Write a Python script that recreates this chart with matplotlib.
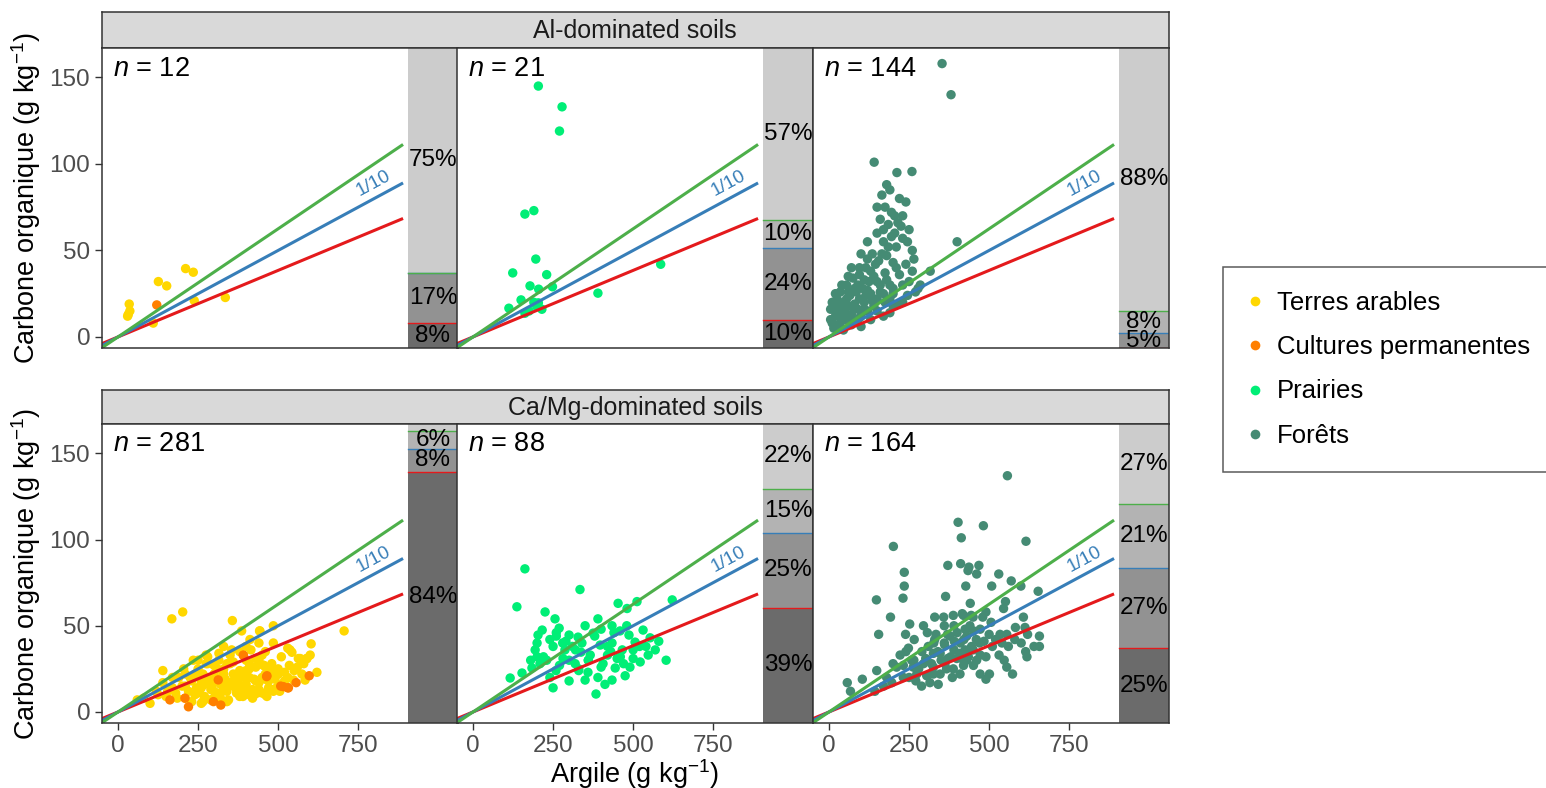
import numpy as np
import matplotlib.pyplot as plt
from matplotlib.lines import Line2D

plt.rcParams['font.family'] = ['Liberation Sans', 'DejaVu Sans']
plt.rcParams['mathtext.fontset'] = 'custom'
plt.rcParams['mathtext.rm'] = 'Liberation Sans'
plt.rcParams['mathtext.it'] = 'Liberation Sans:italic'

# ---------------- data ----------------
land_names = ['Terres arables', 'Cultures permanentes', 'Prairies', 'Forêts']
land_colors = ['#FFD700', '#FF7F00', '#00EE76', '#458B74']
strip_titles = ['Al-dominated soils', 'Ca/Mg-dominated soils']
n_labels = [[12, 21, 144], [281, 88, 164]]

ratio_slopes = [1 / 13, 1 / 10, 1 / 8]
ratio_colors = ['#E41A1C', '#377EB8', '#4DAF4A']
line_x = [-60, 890]

# share of samples (%) : < 1/13, 1/13-1/10, 1/10-1/8, > 1/8
al_shares = [[8.3, 16.7, 0.0, 75.0], [9.5, 23.8, 9.5, 57.2], [0.0, 4.9, 7.6, 87.5]]
ca_shares = [[84.0, 7.8, 5.7, 2.5], [38.6, 25.0, 14.8, 21.6], [25.0, 26.8, 21.3, 26.9]]
share_colors = ['#6B6B6B', '#929292', '#B3B3B3', '#CCCCCC']

# Al-dominated soils
al_arable_x = [35, 32, 37, 30, 110, 126, 152, 211, 235, 238, 335]
al_arable_y = [19, 13, 15, 12, 8, 32, 29.5, 39.5, 37.4, 21, 22.8]
al_perm_x = [121]
al_perm_y = [18.5]

al_prairie_x = [204, 278, 270, 162, 190, 196, 124, 230, 178, 205, 248, 150, 112, 199, 204, 162,
                390, 586, 190, 175, 215]
al_prairie_y = [145, 133, 119, 71, 73, 45, 37, 36, 29.5, 27.6, 29, 21.4, 16.6, 17.6, 19.7, 13.7,
                25.3, 42, 20, 15, 16]

al_forest_x = [353, 381, 141, 212, 259, 400, 316, 278, 165, 190, 175, 220, 240, 205, 160, 185,
               225, 250, 150, 195, 230, 170, 210, 260, 135, 180, 120, 155, 200, 240, 95, 130,
               175, 220, 260, 60, 110, 150, 190, 230, 40, 80, 120, 160, 200, 245, 20, 55,
               95, 135, 175, 215, 10, 40, 75, 110, 150, 190, 25, 60, 95, 130, 170, 5,
               35, 70, 15, 45, 100, 80, 60, 30, 20, 90, 140, 115, 200, 230, 270, 285,
               30, 50, 65,
               10, 20, 30, 40, 50, 60, 70, 80, 90, 100, 110, 120, 130, 140, 150, 160,
               170, 180, 190, 200, 15, 25, 35, 45, 55, 65, 75, 85, 95, 105, 115, 125,
               145, 165, 185, 205, 215, 170, 195, 230, 120, 100, 70, 245, 210, 250, 265, 180,
               150, 5]
al_forest_y = [158, 140, 101, 95, 95.6, 55, 38, 28, 82, 85, 75, 80, 78, 70, 68, 65,
               64, 62, 60, 58, 57, 55, 52, 50, 48, 47, 45, 44, 43, 42, 40, 38,
               37, 36, 38, 35, 33, 32, 30, 30, 30, 28, 27, 26, 25, 24, 25, 22,
               22, 21, 20, 19, 20, 18, 17, 16, 15, 14, 14, 12, 11, 10, 12, 10,
               8, 7, 5, 4, 6, 19, 26, 20, 15, 30, 35, 24, 18, 20, 26, 30,
               12, 15, 10,
               8, 12, 6, 14, 10, 18, 13, 9, 16, 12, 20, 15, 25, 18, 22, 30,
               25, 33, 22, 28, 18, 22, 26, 20, 30, 24, 34, 26, 36, 28, 40, 32,
               42, 48, 52, 60, 66, 62, 72, 70, 55, 48, 40, 55, 40, 32, 45, 88,
               75, 16]

# Ca/Mg-dominated soils
ca_arable_x = [168, 202, 357, 706, 485, 386, 442, 603, 621, 574, 548, 584, 563, 589, 537, 443,
               412, 530, 543, 569, 590, 60, 80, 100, 120, 140, 150, 170, 180, 200, 210, 220,
               230, 240, 250, 260, 270, 280, 290, 300, 310, 320, 330, 340, 350, 360, 370, 380,
               390, 400, 410, 420, 430, 440, 450, 460, 470, 480, 490, 500, 510, 520, 250, 270,
               290, 310, 330, 350, 370, 390, 410, 430, 450, 470, 260, 280, 300, 320, 340, 360,
               380, 400, 420, 440, 460, 480, 500, 240, 255, 275, 295, 315, 335, 355, 375, 395,
               415, 435, 455, 475, 495, 230, 265, 300, 345, 385, 425, 465, 505, 190, 210, 330,
               210, 225, 245, 265, 285, 300, 315, 330, 345, 360, 375, 395, 410, 425, 440, 455,
               470, 485, 500, 520, 535, 550, 205, 235, 275, 315, 355, 400, 440, 460, 485, 510,
               170, 155, 125, 140, 185, 260, 290, 340, 380, 420, 460, 500, 240, 280, 320, 360,
               400, 430, 300, 270, 250, 330, 370, 410, 450, 490, 530, 560, 580, 600]
ca_arable_y = [54, 58, 53, 47, 50, 47, 47, 39.5, 23, 22, 18.5, 18.5, 31, 31, 36, 47,
               42, 37, 34.6, 31, 31, 7, 8, 5, 12, 17, 9, 14, 11, 15, 8, 12,
               18, 10, 25, 14, 9, 20, 13, 27, 10, 16, 22, 12, 28, 18, 11, 24,
               15, 30, 20, 13, 26, 17, 33, 22, 14, 28, 19, 25, 16, 23, 30, 20,
               7, 25, 14, 33, 21, 9, 28, 18, 11, 24, 17, 32, 21, 11, 28, 15,
               35, 24, 9, 30, 19, 13, 22, 21, 13, 28, 16, 34, 19, 29, 12, 20,
               36, 11, 27, 20, 14, 6, 6, 8, 7, 12, 10, 9, 12, 20, 22, 38,
               15, 20, 14, 22, 16, 12, 19, 25, 15, 22, 17, 12, 25, 19, 13, 27,
               18, 12, 22, 18, 27, 24, 25, 30, 33, 30, 36, 38, 40, 35, 40, 32,
               20, 12, 10, 24, 8, 5, 7, 6, 9, 8, 10, 14, 22, 28, 8, 29,
               16, 31, 22, 16, 11, 18, 13, 10, 20, 24, 20, 26, 28, 33]
ca_perm_x = [392, 465, 597, 556, 530, 508, 313, 162, 209, 220, 298, 321, 516, 532, 464, 391]
ca_perm_y = [32.7, 21, 21, 17, 14, 15, 18.6, 7, 8, 3, 6, 4, 14.7, 14, 20.5, 33]

ca_prairie_x = [162, 137, 334, 453, 481, 512, 622, 225, 256, 390, 216, 203, 269, 300, 328, 375,
                434, 459, 487, 531, 553, 194, 250, 287, 337, 397, 434, 466, 506, 547, 569, 603,
                184, 209, 259, 319, 359, 406, 444, 475, 412, 384, 250, 116, 153, 350, 522, 434,
                281, 366, 230, 270, 310, 420, 500, 540, 580, 200, 240, 300, 360, 450, 490, 520,
                330, 390, 430, 470, 290, 260,
                220, 240, 260, 280, 300, 320, 340, 360, 380, 400, 420, 440, 460, 480, 500, 200,
                180, 350, 400, 330]
ca_prairie_y = [83, 61, 71, 63, 60, 64, 65, 58, 54, 54, 47.5, 44.6, 48.6, 44.6, 43.4, 45.7,
                50, 47, 44.6, 47.5, 43, 36, 38, 36, 34.7, 38.8, 40, 36, 40.5, 33, 36, 30,
                25.5, 28, 24, 28, 23, 28, 25.5, 21, 16, 10.4, 14, 19.7, 22.6, 18.5, 29, 18.5,
                31, 33, 30, 27, 38, 33, 31, 38, 41, 32, 20, 18, 30, 31, 26, 38,
                24, 20, 35, 28, 41, 44,
                32, 42, 46, 40, 30, 36, 40, 30, 44, 26, 38, 46, 32, 50, 36, 40,
                30, 50, 48, 25]

ca_forest_x = [557, 403, 482, 413, 615, 201, 371, 411, 437, 468, 434, 461, 235, 530, 569, 235,
               427, 508, 599, 653, 148, 231, 364, 441, 551, 192, 358, 388, 416, 444, 490, 545,
               607, 252, 295, 307, 334, 155, 239, 266, 378, 425, 451, 472, 506, 534, 555, 582,
               612, 657, 248, 327, 361, 391, 421, 445, 484, 657, 614, 618, 222, 258, 302, 347,
               371, 409, 435, 472, 531, 547, 263, 295, 326, 362, 388, 420, 451, 555, 573, 149,
               57, 104, 67, 143, 170, 211, 271, 289, 315, 341, 385, 409, 501, 490, 472, 232,
               196, 305, 326, 232, 430, 461, 367, 399, 425, 326, 347, 274,
               310, 330, 350, 370, 390, 410, 430, 450, 470, 490, 510, 320, 340, 360, 380, 400,
               420, 440, 460, 480, 500, 520, 290, 280, 265, 250, 240, 390, 360, 330, 450, 420,
               540, 560, 580, 600, 620, 640, 180, 200]
ca_forest_y = [137, 110, 108, 101, 99, 96, 85, 86, 84, 85, 82, 80, 81, 80, 76, 73,
               73, 73, 73, 70, 65, 66, 67, 63, 64, 55, 55, 56, 57, 56, 58, 60,
               55, 51, 50, 46, 45, 45, 45, 42, 44, 48, 47, 48, 52, 45, 45, 49,
               49, 44, 37, 40, 39, 41, 42, 38, 41, 38, 35, 32, 33, 30, 31, 34,
               31, 34, 32, 33, 33, 30, 26, 28, 26, 28, 25, 27, 27, 26, 22, 24,
               17, 19, 12, 12, 15, 26, 18, 15, 17, 16, 20, 22, 22, 19, 22, 20,
               17, 21, 22, 27, 30, 30, 25, 31, 36, 34, 22, 22,
               38, 42, 30, 45, 36, 40, 44, 36, 40, 32, 38, 28, 35, 40, 32, 46,
               30, 50, 42, 55, 45, 42, 35, 25, 30, 20, 35, 50, 50, 55, 55, 56,
               40, 38, 42, 40, 45, 38, 20, 28]

# panels: list of (x, y, colour) layers, one row per soil group
panels = [
    [[(al_arable_x, al_arable_y, land_colors[0]), (al_perm_x, al_perm_y, land_colors[1])],
     [(al_prairie_x, al_prairie_y, land_colors[2])],
     [(al_forest_x, al_forest_y, land_colors[3])]],
    [[(ca_arable_x, ca_arable_y, land_colors[0]), (ca_perm_x, ca_perm_y, land_colors[1])],
     [(ca_prairie_x, ca_prairie_y, land_colors[2])],
     [(ca_forest_x, ca_forest_y, land_colors[3])]],
]
shares = [al_shares, ca_shares]

# ---------------- figure ----------------
W, H = 1546, 788
fig = plt.figure(figsize=(W / 100, H / 100), dpi=100)

xlim = (-50, 1060)
ylim = (-6.4, 167)
bar_left = 907

col_left = [102, 457, 813]
col_w = 355.5
row_panel = [(48, 348), (424, 723)]
row_strip = [(12, 48), (390, 424)]
frame_col = '#333333'

for r in range(2):
    top, bot = row_panel[r]
    # strip
    s_top, s_bot = row_strip[r]
    sax = fig.add_axes([col_left[0] / W, 1 - s_bot / H, 3 * col_w / W, (s_bot - s_top) / H])
    sax.set_facecolor('#D9D9D9')
    sax.set_xticks([])
    sax.set_yticks([])
    for sp in sax.spines.values():
        sp.set_color(frame_col)
        sp.set_linewidth(1.1)
    sax.text(0.5, 0.47, strip_titles[r], ha='center', va='center', fontsize=18,
             color='#1A1A1A', transform=sax.transAxes)

    for c in range(3):
        ax = fig.add_axes([col_left[c] / W, 1 - bot / H, col_w / W, (bot - top) / H])
        ax.set_xlim(*xlim)
        ax.set_ylim(*ylim)

        for xs, ys, col in panels[r][c]:
            ax.scatter(xs, ys, s=46, color=col, edgecolors='none', zorder=2)

        for slope, col in zip(ratio_slopes, ratio_colors):
            ax.plot(line_x, [slope * v for v in line_x], color=col, lw=2.2, zorder=3,
                    solid_capstyle='butt')
        ax.text(812, 0.1 * 812 + 3.2, '1/10', color=ratio_colors[1], fontsize=13.5,
                rotation=np.degrees(np.arctan(0.1)), transform_rotates_text=True,
                rotation_mode='anchor', ha='center', va='bottom', zorder=4)

        # stacked share bar
        span = ylim[1] - ylim[0]
        base = ylim[0]
        for k, pct in enumerate(shares[r][c]):
            h = pct / 100 * span
            ax.bar(bar_left, h, width=xlim[1] - bar_left + 5, bottom=base, align='edge',
                   color=share_colors[k], edgecolor='none', zorder=1)
            if pct >= 4:
                ax.text((bar_left + xlim[1]) / 2, base + h / 2, f'{round(pct):d}%',
                        ha='center', va='center', fontsize=17.5, color='#000000',
                        zorder=5, clip_on=True)
            base += h
            if k < 3:
                ax.plot([bar_left, xlim[1] + 5], [base, base], color=ratio_colors[k],
                        lw=1.0, zorder=4)

        ax.text(0.03, 0.975, f'$n$ = {n_labels[r][c]}', transform=ax.transAxes,
                ha='left', va='top', fontsize=19.5, color='#000000')

        for sp in ax.spines.values():
            sp.set_color(frame_col)
            sp.set_linewidth(1.1)
            sp.set_zorder(6)
        ax.tick_params(colors=frame_col, labelcolor='#4D4D4D', labelsize=17.5, length=5,
                       width=1.0)
        ax.set_yticks([0, 50, 100, 150])
        ax.set_xticks([0, 250, 500, 750])
        if c > 0:
            ax.tick_params(axis='y', left=False, labelleft=False)
        if r == 0:
            ax.tick_params(axis='x', bottom=False, labelbottom=False)
        if c == 0:
            ax.set_ylabel(r'Carbone organique (g kg$^{-1}$)', fontsize=19.5, labelpad=5,
                          color='#000000')
        if r == 1 and c == 1:
            ax.set_xlabel(r'Argile (g kg$^{-1}$)', fontsize=19.5, labelpad=0, color='#000000')

handles = [Line2D([], [], marker='o', linestyle='none', markersize=7, color=col,
                  markeredgecolor='none') for col in land_colors]
leg = fig.legend(handles, land_names, loc='upper left',
                 bbox_to_anchor=(1223 / W, 1 - 267 / H), fontsize=18.5, frameon=True,
                 fancybox=False, edgecolor=frame_col, labelspacing=0.78, handletextpad=0.55,
                 borderpad=0.95, handlelength=0.6, borderaxespad=0)
leg.get_frame().set_linewidth(1.1)

fig.savefig('out.png', dpi=100)
